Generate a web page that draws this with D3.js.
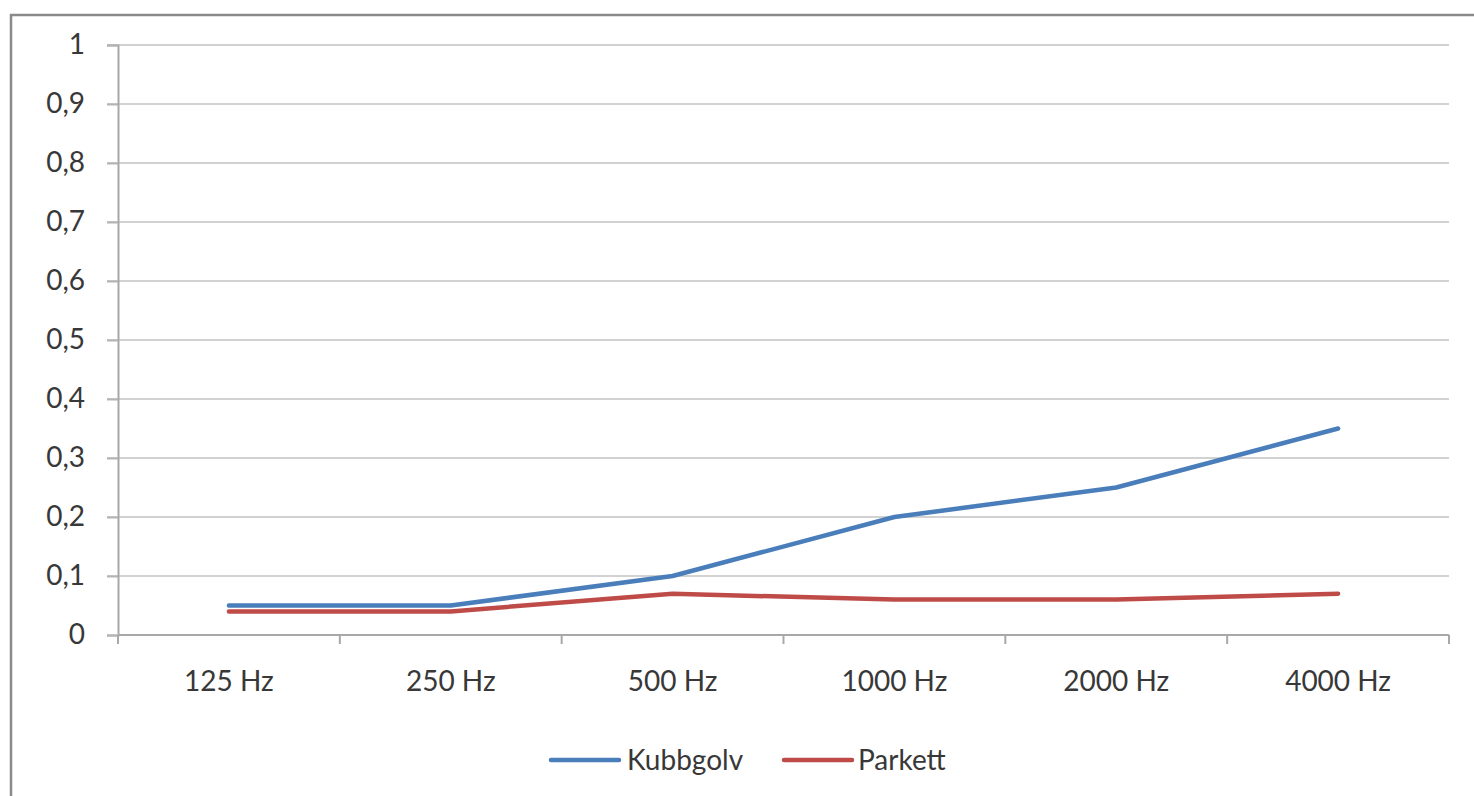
<!DOCTYPE html>
<html>
<head>
<meta charset="utf-8">
<script src="https://cdn.jsdelivr.net/npm/d3@7"></script>
<style>
  html, body { margin: 0; padding: 0; background: #fff; }
  svg { display: block; }
  text { font-family: Lato, "Open Sans", sans-serif; fill: #383838; }
</style>
</head>
<body>
<svg id="chart" width="1474" height="796"></svg>
<script>
const categories = ["125 Hz", "250 Hz", "500 Hz", "1000 Hz", "2000 Hz", "4000 Hz"];
const kubbgolv = [0.05, 0.05, 0.10, 0.20, 0.25, 0.35];
const parkett = [0.04, 0.04, 0.07, 0.06, 0.06, 0.07];
const yTicks = [0, 0.1, 0.2, 0.3, 0.4, 0.5, 0.6, 0.7, 0.8, 0.9, 1];
const seriesNames = ["Kubbgolv", "Parkett"];
const seriesColors = ["#4a7ebb", "#be4b48"];

(function () {
const svg = d3.select("#chart");
const mLeft = 118, mRight = 1449, mTop = 45, mBottom = 635;
const fs = 28;

// outer frame
svg.append("rect").attr("x", 11).attr("y", 15).attr("width", 1500).attr("height", 820)
  .attr("fill", "none").attr("stroke", "#8a8a8a").attr("stroke-width", 2.5);

const x = d3.scaleBand().domain(categories).range([mLeft, mRight]).paddingInner(0).paddingOuter(0);
const y = d3.scaleLinear().domain([0, 1]).range([mBottom, mTop]);

// gridlines
svg.append("g").selectAll("line").data(yTicks.filter(d => d > 0)).join("line")
  .attr("x1", 107).attr("x2", mRight)
  .attr("y1", d => y(d)).attr("y2", d => y(d))
  .attr("stroke", "#d2d2d2").attr("stroke-width", 2);

// y axis
const yAxis = d3.axisLeft(y).tickValues(yTicks).tickSize(11).tickPadding(22)
  .tickFormat(d => d3.format(".1~f")(d).replace(".", ","));
const gy = svg.append("g").attr("transform", `translate(${mLeft},0)`).call(yAxis);
gy.select(".domain").attr("stroke", "#a8a8a8").attr("stroke-width", 2);
gy.selectAll(".tick line").attr("stroke", "#b4b4b4").attr("stroke-width", 2);
gy.selectAll(".tick text").attr("font-size", fs).attr("fill", "#383838")
  .attr("font-family", "Lato, sans-serif");

// x axis line and boundary ticks
const gx = svg.append("g");
gx.append("line").attr("x1", mLeft).attr("x2", mRight).attr("y1", mBottom).attr("y2", mBottom)
  .attr("stroke", "#a8a8a8").attr("stroke-width", 2);
const boundaries = categories.map(c => x(c)).concat([x(categories[categories.length - 1]) + x.bandwidth()]);
gx.selectAll("line.tk").data(boundaries).join("line").attr("class", "tk")
  .attr("x1", d => d).attr("x2", d => d).attr("y1", mBottom).attr("y2", mBottom + 9)
  .attr("stroke", "#a8a8a8").attr("stroke-width", 2);
gx.selectAll("text").data(categories).join("text")
  .attr("x", d => x(d) + x.bandwidth() / 2).attr("y", 691)
  .attr("text-anchor", "middle").attr("font-size", fs).text(d => d);

// lines
const line = d3.line().x((d, i) => x(categories[i]) + x.bandwidth() / 2).y(d => y(d));
[kubbgolv, parkett].forEach((vals, k) => {
  svg.append("path").datum(vals).attr("d", line)
    .attr("fill", "none").attr("stroke", seriesColors[k]).attr("stroke-width", 4.5)
    .attr("stroke-linejoin", "round").attr("stroke-linecap", "round");
});

// legend
const legendItems = [
  { name: seriesNames[0], color: seriesColors[0], x1: 551, x2: 619, tx: 627 },
  { name: seriesNames[1], color: seriesColors[1], x1: 784, x2: 852, tx: 858 }
];
const lg = svg.append("g");
legendItems.forEach(it => {
  lg.append("line").attr("x1", it.x1).attr("x2", it.x2).attr("y1", 760).attr("y2", 760)
    .attr("stroke", it.color).attr("stroke-width", 4.5).attr("stroke-linecap", "round");
  lg.append("text").attr("x", it.tx).attr("y", 770).attr("font-size", fs).text(it.name);
});
})();
</script>
</body>
</html>
